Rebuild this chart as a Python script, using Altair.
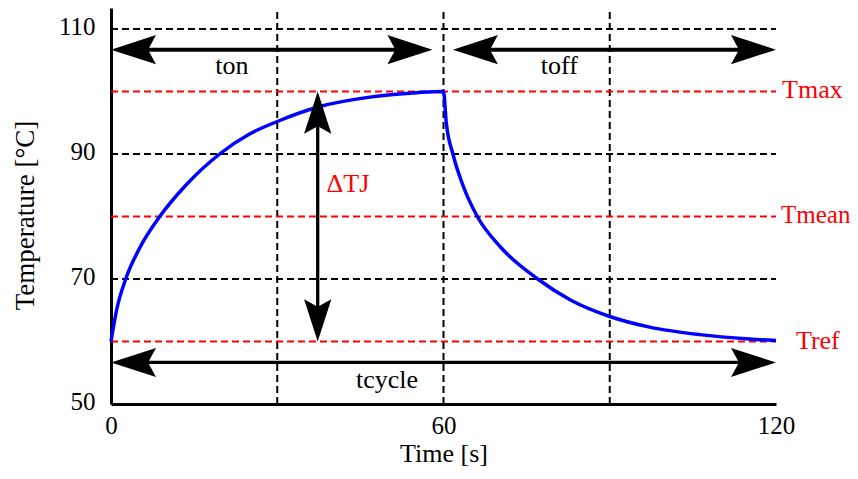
import altair as alt
import pandas as pd

# ---- data ----
time_s = [0, 1, 2.65, 5.2, 8.8, 13.5, 19.6, 25, 30, 37.7, 46.7, 55.7, 60,
          60.5, 61.7, 63.5, 66.1, 70.4, 77, 83, 90, 97.2, 106.2, 115.2, 120]
temp_c = [60, 65, 70, 75, 80, 85, 90, 93.2, 95.2, 97.6, 99.1, 99.85, 100,
          95, 90, 85, 80, 75, 70, 66.6, 64.0, 62.3, 61.1, 60.4, 60.15]

grid_temps = [70, 90, 110]
grid_times = [30, 60, 90]
ref_levels = [60, 80, 100]

ref_names = ["Tmax", "Tmean", "Tref"]
ref_label_x = [121.1, 120.9, 123.6]
ref_label_y = [98.9, 79.0, 58.8]
ref_font = [26, 25, 26]

span_names = ["ton", "toff", "tcycle"]
span_start = [0, 61.7, 0]
span_end = [58.0, 120, 120]
span_level = [106.7, 106.7, 56.65]
span_width = [4, 4, 3.3]
span_label_x = [21.8, 80.9, 49.8]
span_label_y = [102.85, 102.85, 52.6]

dtj_name = "ΔTJ"
dtj_time = 37.3
dtj_low = 60
dtj_high = 100
dtj_label_x = 38.9
dtj_label_y = 83.9

X_MIN, X_MAX = 0, 120
Y_MIN, Y_MAX = 50, 113.36
FONT = "Liberation Serif"

# ---- tables ----
curve = pd.DataFrame({"t": time_s, "T": temp_c, "i": range(len(time_s))})
gh = pd.DataFrame({"y": grid_temps, "x0": X_MIN, "x1": X_MAX})
gv = pd.DataFrame({"x": grid_times, "y0": Y_MIN, "y1": Y_MAX})
rl = pd.DataFrame({"y": ref_levels, "x0": X_MIN, "x1": X_MAX})
ref_txt = pd.DataFrame({"x": ref_label_x, "y": ref_label_y, "label": ref_names,
                        "fs": ref_font})

h_inset = 3.0
v_inset = 2.5
lines = pd.DataFrame({
    "x0": [s + h_inset for s in span_start] + [dtj_time],
    "x1": [e - h_inset for e in span_end] + [dtj_time],
    "y0": span_level + [dtj_high - v_inset],
    "y1": span_level + [dtj_low + v_inset],
    "w": span_width + [3.3],
})
heads = pd.DataFrame({
    "x": span_start + span_end + [dtj_time, dtj_time],
    "y": span_level + span_level + [dtj_high, dtj_low],
    "angle": [180] * 3 + [0] * 3 + [270, 90],
    "size": [900] * 6 + [790, 790],
})
span_txt = pd.DataFrame({"x": span_label_x, "y": span_label_y, "label": span_names})
dtj_txt = pd.DataFrame({"x": [dtj_label_x], "y": [dtj_label_y], "label": [dtj_name]})

xscale = alt.Scale(domain=[X_MIN, X_MAX], nice=False, zero=False)
yscale = alt.Scale(domain=[Y_MIN, Y_MAX], nice=False, zero=False)

xaxis = alt.Axis(values=[0, 60, 120], title="Time [s]", grid=False, ticks=False,
                 domainColor="black", domainWidth=3, labelFlush=False,
                 labelFont=FONT, labelFontSize=25, labelColor="black",
                 labelBaseline="alphabetic", labelPadding=29,
                 titleFont=FONT, titleFontSize=26, titleFontWeight="normal",
                 titleColor="black", titleBaseline="alphabetic", titleY=57)
yaxis = alt.Axis(values=[50, 70, 90, 110], title="Temperature [°C]", grid=False, ticks=False,
                 domainColor="black", domainWidth=3, labelFlush=False,
                 labelFont=FONT, labelFontSize=25, labelColor="black",
                 labelPadding=16, labelOffset=-3,
                 titleFont=FONT, titleFontSize=27, titleFontWeight="normal",
                 titleColor="black", titleAngle=270, titleAlign="center",
                 titleBaseline="alphabetic", titleX=-78, titleY=207)


def X(f):
    return alt.X(f, type="quantitative", scale=xscale, axis=xaxis)


def Y(f):
    return alt.Y(f, type="quantitative", scale=yscale, axis=yaxis)


dash = [7, 4]
grid_h = alt.Chart(gh).mark_rule(color="black", strokeWidth=2, strokeDash=dash).encode(
    x=X("x0"), x2="x1", y=Y("y"))
grid_v = alt.Chart(gv).mark_rule(color="black", strokeWidth=2, strokeDash=dash).encode(
    x=X("x"), y=Y("y0"), y2="y1")
ref = alt.Chart(rl).mark_rule(color="#ff0000", strokeWidth=2, strokeDash=dash).encode(
    x=X("x0"), x2="x1", y=Y("y"))
line = alt.Chart(curve).mark_line(color="#0000ff", strokeWidth=3.5,
                                  interpolate="monotone").encode(
    x=X("t"), y=Y("T"), order="i:Q")
arr_lines = alt.Chart(lines).mark_rule(color="black").encode(
    x=X("x0"), x2="x1", y=Y("y0"), y2="y1",
    strokeWidth=alt.StrokeWidth("w:Q", scale=None, legend=None))
arrow_path = "M0,0 L-3,-0.97 L-2.47,0 L-3,0.97 Z"
arr_heads = alt.Chart(heads).mark_point(shape=arrow_path, filled=True, color="black",
                                         opacity=1, strokeWidth=0.5).encode(
    x=X("x"), y=Y("y"),
    angle=alt.Angle("angle:Q", scale=None),
    size=alt.Size("size:Q", scale=None, legend=None))
txt_black = alt.Chart(span_txt).mark_text(font=FONT, fontSize=26, color="black",
                                          align="center", baseline="alphabetic").encode(
    x=X("x"), y=Y("y"), text="label:N")
txt_ref = alt.Chart(ref_txt).mark_text(font=FONT, color="#ff0000",
                                       align="left", baseline="alphabetic").encode(
    x=X("x"), y=Y("y"), text="label:N",
    size=alt.Size("fs:Q", scale=None, legend=None))
txt_dtj = alt.Chart(dtj_txt).mark_text(font=FONT, fontSize=26, color="#ff0000",
                                       align="left", baseline="alphabetic").encode(
    x=X("x"), y=Y("y"), text="label:N")

chart = alt.layer(grid_h, grid_v, ref, line, arr_lines, arr_heads,
                  txt_black, txt_ref, txt_dtj).properties(
    width=665, height=396,
    autosize=alt.AutoSizeParams(type="none"),
    padding={"left": 103, "top": 0, "right": 74, "bottom": 62},
    background="white",
).configure_view(stroke=None)

chart.save("out.html", embed_options={"renderer": "svg", "actions": False})
